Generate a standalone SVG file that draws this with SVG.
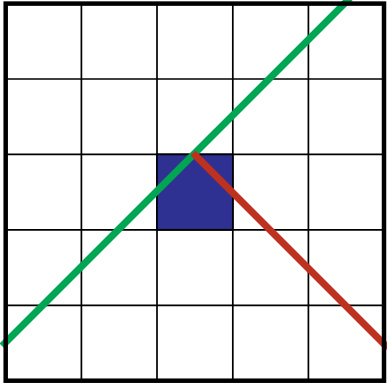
<svg xmlns="http://www.w3.org/2000/svg" width="387" height="385" viewBox="0 0 387 385">
<style>
.grid{stroke:#000;stroke-width:1.7;fill:none}
.line{fill:none;stroke-width:7;stroke-linecap:butt}
</style>
<rect x="0" y="0" width="387" height="385" fill="#fff"/>
<g id="grid" class="grid">
<line x1="81.4" y1="3.6" x2="81.4" y2="380.7"/>
<line x1="157" y1="3.6" x2="157" y2="380.7"/>
<line x1="232.8" y1="3.6" x2="232.8" y2="380.7"/>
<line x1="308.4" y1="3.6" x2="308.4" y2="380.7"/>
<line x1="5.7" y1="79" x2="384" y2="79"/>
<line x1="5.7" y1="154.4" x2="384" y2="154.4"/>
<line x1="5.7" y1="229.8" x2="384" y2="229.8"/>
<line x1="5.7" y1="305.3" x2="384" y2="305.3"/>
</g>
<g id="square">
<rect x="157" y="154.4" width="75.8" height="75.4" fill="#2E3192" stroke="#000" stroke-width="1.7"/>
</g>
<g id="connectors">
<line id="green" class="line" stroke="#00A651" x1="2" y1="346" x2="350" y2="-2"/>
<line id="red" class="line" stroke="#BE311F" x1="193" y1="153" x2="388" y2="348"/>
</g>
<g id="border">
<rect x="5.7" y="3.6" width="378.3" height="377.1" fill="none" stroke="#000" stroke-width="4.5"/>
</g>
</svg>
